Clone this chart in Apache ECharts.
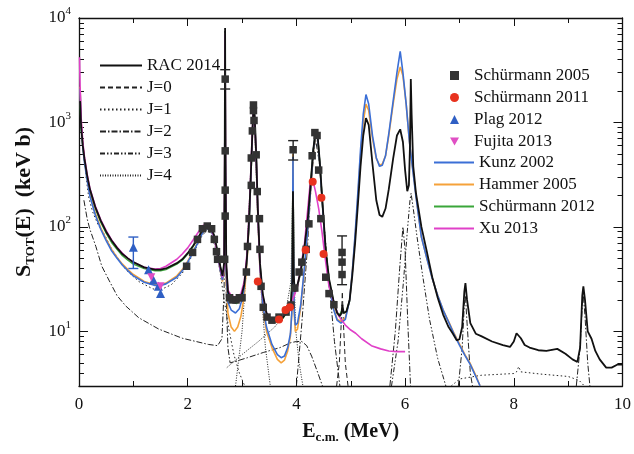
<!DOCTYPE html>
<html lang="en">
<head>
    <meta charset="utf-8">
    <title>S factor 12C(a,g)</title>
    <script src="https://cdn.jsdelivr.net/npm/echarts@6/dist/echarts.min.js"></script>
    <style>
        html, body { margin: 0; padding: 0; background: #fff; }
        #chart { width: 634px; height: 454px; }
    </style>
</head>
<body>
<div id="chart"></div>
<script>
    // all curves: [E_cm (MeV), S (keV b)]
    var rac2014 = [[0.02,1600],[0.04,900],[0.07,600],[0.1,450],[0.15,310],[0.2,230],[0.3,155],[0.4,115],[0.5,90],[0.6,74],[0.7,63],[0.8,55],[0.9,50],[1.0,46],[1.2,41],[1.4,39],[1.5,39],[1.6,40],[1.8,45],[1.9,49],[2.0,56],[2.1,66],[2.2,80],[2.28,95],[2.35,102],[2.42,99],[2.48,85],[2.54,62],[2.6,42],[2.64,34],[2.67,45],[2.68,300],[2.688,8000],[2.696,400],[2.71,45],[2.74,24],[2.8,20],[2.9,19],[2.98,21],[3.04,28],[3.09,50],[3.13,120],[3.16,300],[3.19,800],[3.21,1400],[3.23,1200],[3.26,500],[3.29,150],[3.33,45],[3.38,23],[3.45,15],[3.55,12.5],[3.65,12.5],[3.75,13.5],[3.83,15.5],[3.9,19],[3.925,30],[3.937,220],[3.95,35],[3.97,24],[4.02,28],[4.08,38],[4.15,65],[4.21,120],[4.26,250],[4.31,550],[4.35,800],[4.39,750],[4.43,420],[4.48,170],[4.54,60],[4.6,32],[4.68,20],[4.75,15],[4.8,14],[4.83,15],[4.845,18],[4.87,15],[4.92,15.5],[4.98,20],[5.03,35],[5.08,70],[5.13,160],[5.18,380],[5.23,750],[5.28,1100],[5.33,950],[5.4,400],[5.47,180],[5.53,130],[5.58,125],[5.64,150],[5.7,230],[5.78,450],[5.85,750],[5.91,860],[5.96,650],[6.0,350],[6.04,220],[6.07,250],[6.09,600],[6.105,2600],[6.12,1200],[6.15,380],[6.2,210],[6.3,100],[6.4,58],[6.5,33],[6.6,21],[6.7,14.5],[6.8,11],[6.88,9.5],[6.95,8.2],[7.0,8.4],[7.05,11],[7.09,24],[7.11,29],[7.14,20],[7.2,12],[7.3,9.5],[7.4,9],[7.6,8],[7.8,7.4],[7.93,7.1],[8.0,8],[8.05,9.6],[8.08,10],[8.13,8.6],[8.2,7.4],[8.29,7],[8.45,6.6],[8.6,6.5],[8.8,6.8],[8.95,6.1],[9.08,5.4],[9.17,5.1],[9.22,7],[9.26,22],[9.28,27],[9.31,20],[9.36,10],[9.43,8.5],[9.5,6.5],[9.58,5.4],[9.7,4.5],[9.8,4.5],[9.9,4.8],[10,4.8]];

    var hammer2005 = [[0.02,2200],[0.04,1000],[0.07,600],[0.1,430],[0.15,290],[0.2,205],[0.3,135],[0.4,98],[0.5,76],[0.6,61],[0.7,51],[0.8,44],[0.9,39],[1.0,35],[1.2,30],[1.4,28],[1.5,28],[1.6,29],[1.8,34],[1.9,39],[2.0,47],[2.1,58],[2.2,74],[2.28,90],[2.35,98],[2.42,95],[2.48,80],[2.54,58],[2.6,38],[2.64,30],[2.67,38],[2.68,250],[2.688,6500],[2.696,300],[2.71,30],[2.74,15],[2.8,11],[2.86,10],[2.92,11],[2.98,14],[3.04,22],[3.09,45],[3.13,110],[3.16,280],[3.19,760],[3.21,1300],[3.23,1100],[3.26,450],[3.29,130],[3.33,38],[3.38,17],[3.45,10],[3.55,7],[3.65,5.4],[3.72,5],[3.78,5.3],[3.84,6.5],[3.89,9],[3.915,15],[3.93,80],[3.937,500],[3.945,80],[3.96,15],[3.98,10],[4.02,10.5],[4.08,17],[4.15,40],[4.21,95],[4.26,220],[4.31,520],[4.35,780],[4.39,720],[4.43,400],[4.48,160],[4.54,55],[4.6,28],[4.68,17],[4.75,13],[4.82,12.5],[4.9,13.5],[4.98,20],[5.03,38],[5.08,80],[5.13,190],[5.18,480],[5.23,1000],[5.28,1500],[5.33,1300],[5.4,700],[5.47,450],[5.53,390],[5.58,400],[5.64,480],[5.7,750],[5.78,1500],[5.85,2600],[5.91,3400],[5.96,2800],[6.02,1500],[6.08,650],[6.15,330],[6.2,200],[6.3,80],[6.4,50],[6.5,32],[6.6,22],[6.7,16],[6.8,12.5],[6.9,9.6],[7.0,7.6],[7.1,6],[7.2,4.9],[7.3,3.8],[7.38,3]];

    var kunz2002 = [[0.02,2100],[0.04,960],[0.07,580],[0.1,415],[0.15,280],[0.2,198],[0.3,130],[0.4,95],[0.5,74],[0.6,59],[0.7,50],[0.8,43],[0.9,38],[1.0,34],[1.2,29.5],[1.4,27.5],[1.5,27.5],[1.6,28.5],[1.8,33],[1.9,38],[2.0,46],[2.1,57],[2.2,73],[2.28,89],[2.35,97],[2.42,94],[2.48,80],[2.54,58],[2.6,38],[2.64,31],[2.67,40],[2.68,280],[2.688,7000],[2.696,350],[2.71,35],[2.74,19],[2.8,16],[2.88,15],[2.95,16.5],[3.02,22],[3.08,42],[3.13,110],[3.16,280],[3.19,780],[3.21,1330],[3.23,1120],[3.26,460],[3.29,135],[3.33,40],[3.38,18],[3.45,11],[3.55,7.5],[3.65,6],[3.72,5.6],[3.78,5.8],[3.84,7],[3.89,9.5],[3.915,15],[3.93,80],[3.937,470],[3.945,80],[3.96,16],[3.98,11.5],[4.02,12],[4.08,18],[4.15,42],[4.21,97],[4.26,225],[4.31,530],[4.35,790],[4.39,730],[4.43,400],[4.48,160],[4.54,55],[4.6,28],[4.68,16.5],[4.75,12.8],[4.82,12],[4.9,13],[4.98,20],[5.03,38],[5.08,85],[5.13,210],[5.18,550],[5.23,1200],[5.28,1850],[5.33,1500],[5.4,750],[5.47,460],[5.53,380],[5.58,390],[5.64,480],[5.7,780],[5.78,1600],[5.85,3000],[5.91,4800],[5.96,3000],[6.02,1500],[6.08,650],[6.15,320],[6.2,195],[6.3,80],[6.4,50],[6.5,32],[6.6,22],[6.7,16],[6.8,12.3],[6.9,9.4],[7.0,7.4],[7.1,5.9],[7.2,4.8],[7.3,3.7],[7.38,3]];

    var schurmann2012 = [[0.02,1550],[0.04,880],[0.07,590],[0.1,440],[0.15,300],[0.2,222],[0.3,150],[0.4,111],[0.5,87],[0.6,71],[0.7,61],[0.8,53],[0.9,48],[1.0,44],[1.2,40],[1.4,38],[1.5,38],[1.6,39],[1.8,44],[1.9,48],[2.0,55],[2.1,65],[2.2,79],[2.28,94],[2.35,100],[2.42,97],[2.48,83],[2.54,60],[2.6,41],[2.64,33],[2.67,42],[2.68,250],[2.688,5000],[2.696,300],[2.71,40],[2.74,23],[2.8,19.5],[2.9,18.5],[2.98,20.5],[3.04,27],[3.09,48],[3.13,115],[3.16,290],[3.19,780],[3.21,1380],[3.23,1180],[3.26,490],[3.29,145],[3.33,44],[3.38,22],[3.45,14.5],[3.55,12.3],[3.65,12.3],[3.75,13.3],[3.83,15.3],[3.9,18.5],[3.925,40],[3.937,460],[3.95,40],[3.97,23],[4.02,27],[4.08,37],[4.15,63],[4.21,118],[4.26,245],[4.31,540],[4.35,790],[4.39,740],[4.43,410],[4.48,165],[4.54,58],[4.6,31],[4.68,19.5],[4.75,15],[4.8,14.5],[4.84,16],[4.87,15],[4.92,15.5],[4.98,19.5]];

    var xu2013 = [[0.01,4200],[0.02,2200],[0.04,1100],[0.07,650],[0.1,470],[0.15,320],[0.2,235],[0.3,158],[0.4,117],[0.5,92],[0.6,75],[0.7,64],[0.8,56],[0.9,50],[1.0,46],[1.2,41],[1.4,39.5],[1.5,40],[1.6,42],[1.8,49],[1.9,55],[2.0,63],[2.1,75],[2.2,90],[2.28,103],[2.34,106],[2.41,100],[2.48,82],[2.54,58],[2.6,40],[2.64,33],[2.67,42],[2.68,280],[2.688,7000],[2.696,350],[2.71,42],[2.74,25],[2.8,22],[2.9,21],[2.98,23],[3.04,30],[3.09,55],[3.13,130],[3.16,320],[3.19,850],[3.21,1350],[3.23,1150],[3.26,480],[3.29,140],[3.33,42],[3.38,22],[3.45,15],[3.55,13],[3.65,13],[3.75,14],[3.83,16],[3.9,19],[3.96,22],[4.02,27],[4.08,40],[4.15,70],[4.21,150],[4.25,250],[4.28,290],[4.31,270],[4.35,220],[4.41,150],[4.47,90],[4.53,50],[4.6,27],[4.7,18],[4.78,14],[4.9,11.5],[5.0,10.3],[5.09,9.6],[5.2,8.5],[5.38,7.3],[5.55,6.8],[5.7,6.5],[5.85,6.4],[6.0,6.4]];

    // partial waves (thin black), each a list of separate pieces
    var j0Parts = [
        [[4.74,3],[4.79,5],[4.825,12],[4.845,24],[4.865,12],[4.9,5],[4.95,3]]
    ];
    var j1Parts = [
        [[0.12,330],[0.18,190],[0.25,140],[0.35,105],[0.45,88],[0.6,62],[0.86,39],[1.1,30],[1.36,25.5],[1.5,25],[1.7,28],[1.9,36],[2.1,55],[2.25,80],[2.34,92],[2.42,88],[2.5,66],[2.58,42],[2.66,22],[2.75,11],[2.85,6],[2.95,4],[3.05,3]],
        [[6.85,3],[7.0,3.5],[7.4,3.8],[8.0,3.95],[8.05,4.1],[8.09,4.6],[8.13,4.1],[8.5,3.9],[9.0,3.7],[9.2,3.4],[9.3,3]]
    ];
    var j2Parts = [
        [[0.09,180],[0.15,120],[0.2,95],[0.31,65],[0.42,42],[0.55,31],[0.7,22],[0.86,17.5],[1.1,13.5],[1.47,10.5],[1.9,8.6],[2.38,7.5],[2.55,7.3],[2.63,8.5],[2.67,25],[2.68,400],[2.688,7500],[2.696,400],[2.71,20],[2.74,7],[2.78,5],[2.9,5.2],[3.1,5.6],[3.4,6.3],[3.7,7],[3.9,7.8],[4.0,8],[4.1,8],[4.19,7.3],[4.28,5.8],[4.38,4.2],[4.48,3]],
        [[4.0,3],[4.1,12],[4.2,60],[4.28,300],[4.35,700],[4.42,420],[4.5,120],[4.6,30],[4.7,8],[4.8,3]],
        [[5.72,3],[5.82,10],[5.9,40],[5.96,100],[6.0,60],[6.05,12],[6.1,3]],
        [[6.98,3],[7.05,7],[7.09,18],[7.11,22],[7.14,12],[7.2,4],[7.24,3]],
        [[9.15,3],[9.22,7],[9.26,18],[9.28,22],[9.31,14],[9.36,5],[9.4,3]]
    ];
    var j3Parts = [
        [[5.75,3],[5.87,8],[5.97,30],[6.04,90],[6.09,180],[6.11,210],[6.15,150],[6.22,80],[6.32,35],[6.45,13],[6.6,5.5],[6.75,3]]
    ];
    var j4Parts = [
        [[2.88,3],[3.0,10],[3.08,40],[3.14,200],[3.19,900],[3.21,1300],[3.24,700],[3.29,110],[3.35,25],[3.43,7],[3.52,3]],
        [[2.72,4.5],[3.0,6],[3.3,8],[3.6,11],[3.8,15],[3.9,30],[3.93,200],[3.937,470],[3.945,200],[3.96,30],[3.99,10],[4.05,5],[4.12,3]]
    ];

    // measurements
    var schurmann2005 = [[1.98,42],[2.09,57],[2.18,76],[2.27,96],[2.36,102],[2.44,96],[2.49,76],[2.53,58],[2.55,49],[2.69,2600],[2.69,535],[2.69,225],[2.69,127],[2.68,49],[2.77,21],[2.82,20],[2.89,20],[2.95,21],[3.0,21],[3.08,37],[3.1,65],[3.13,120],[3.17,250],[3.17,457],[3.19,830],[3.21,1300],[3.21,1470],[3.22,1045],[3.26,490],[3.28,218],[3.32,120],[3.33,61],[3.35,27],[3.39,17],[3.46,13.7],[3.55,12.8],[3.68,13.7],[3.81,15.3],[3.9,17.9],[3.94,548],[3.97,26],[4.05,37],[4.1,46],[4.18,61],[4.23,107],[4.29,480],[4.34,800],[4.38,750],[4.41,350],[4.45,120],[4.54,33],[4.6,23],[4.69,18],[4.84,57],[4.84,46],[4.84,35]];
    var schurmann2011 = [[3.29,30],[3.68,13],[3.8,16],[3.88,17],[4.17,60],[4.3,270],[4.46,190],[4.5,55]];
    var plag2012 = [[1.0,64],[1.28,39],[1.37,31],[1.46,27],[1.5,23]];
    var fujita2013 = [[1.33,33],[1.5,27]];

    // error bars: [E, low, high]
    var schurmann2005Err = [[2.69,2090,3200],[3.94,437,670],[4.84,28,82]];
    var plag2012Err = [[1.0,40,80]];

    // axis ticks
    var xLabels = [0, 2, 4, 6, 8, 10];
    var yDecades = [1, 2, 3, 4];

    var serif = '"Liberation Serif", "DejaVu Serif", serif';
    var downTriangle = 'path://M0,0L10,0L5,9Z';
    var yMin = Math.log10(3), yMax = 4;

    function toLog(pts) {
        return pts.map(function (p) { return [p[0], Math.log10(p[1])]; });
    }
    function joinParts(parts) {
        var out = [];
        parts.forEach(function (seg, i) {
            if (i > 0) out.push([seg[0][0], '-']);
            out = out.concat(toLog(seg));
        });
        return out;
    }
    function errLog(rows) {
        return rows.map(function (r) { return [r[0], Math.log10(r[1]), Math.log10(r[2])]; });
    }

    var yMinor = [];
    for (var d = 0; d < 4; d++) {
        for (var k = 2; k <= 9; k++) {
            var v = d + Math.log10(k);
            if (v > yMin && v < yMax) yMinor.push(v);
        }
    }

    function curve(name, data, color, width, dash, z) {
        return {
            name: name, type: 'line', data: data, symbol: 'none',
            lineStyle: { color: color, width: width, type: dash || 'solid' },
            itemStyle: { color: color, opacity: 0 },
            animation: false, z: z || 2
        };
    }
    function marks(name, pts, symbol, size, color) {
        return {
            name: name, type: 'scatter', data: toLog(pts),
            symbol: symbol, symbolSize: size,
            itemStyle: { color: color, opacity: 1 },
            animation: false, z: 6
        };
    }
    function errorBars(name, rows, color) {
        return {
            name: name, type: 'custom', data: errLog(rows), z: 5,
            encode: { x: 0, y: [1, 2] }, animation: false,
            renderItem: function (params, api) {
                var x = api.value(0);
                var lo = api.coord([x, api.value(1)]);
                var hi = api.coord([x, api.value(2)]);
                var st = { stroke: color, lineWidth: 1.4 };
                return {
                    type: 'group', children: [
                        { type: 'line', shape: { x1: lo[0], y1: lo[1], x2: hi[0], y2: hi[1] }, style: st },
                        { type: 'line', shape: { x1: lo[0] - 5, y1: lo[1], x2: lo[0] + 5, y2: lo[1] }, style: st },
                        { type: 'line', shape: { x1: hi[0] - 5, y1: hi[1], x2: hi[0] + 5, y2: hi[1] }, style: st }
                    ]
                };
            }
        };
    }

    function yAxisDef(position, ticks, len, showLine, label) {
        return {
            type: 'value', min: yMin, max: yMax, position: position,
            splitLine: { show: false },
            axisLine: { show: showLine, lineStyle: { color: '#111', width: 1.3 } },
            axisTick: { show: true, inside: true, length: len, customValues: ticks, lineStyle: { color: '#111', width: 1 } },
            axisLabel: label || { show: false }
        };
    }
    function xAxisDef(position, label) {
        return {
            type: 'value', min: 0, max: 10, interval: 2, position: position,
            splitLine: { show: false },
            axisLine: { lineStyle: { color: '#111', width: 1.3 } },
            axisTick: { inside: true, length: 8, lineStyle: { color: '#111', width: 1 } },
            minorTick: { show: true, splitNumber: 2, length: 5, lineStyle: { color: '#111', width: 1 } },
            axisLabel: label || { show: false }
        };
    }

    var yLeft = yAxisDef('left', yDecades, 9, true, {
        customValues: yDecades, margin: 8,
        formatter: function (v) { return '{b|10}{s|' + Math.round(v) + '}'; },
        rich: {
            b: { fontFamily: serif, fontSize: 17, color: '#111', lineHeight: 24 },
            s: { fontFamily: serif, fontSize: 11, color: '#111', lineHeight: 10, verticalAlign: 'top' }
        }
    });
    yLeft.name = '{b|S}{s|TOT}{b|(E)  (keV b)}';
    yLeft.nameLocation = 'middle';
    yLeft.nameGap = 42;
    yLeft.nameTextStyle = {
        rich: {
            b: { fontFamily: serif, fontSize: 22, fontWeight: 'bold', color: '#111', lineHeight: 26 },
            s: { fontFamily: serif, fontSize: 13, fontWeight: 'bold', color: '#111', lineHeight: 10, verticalAlign: 'bottom' }
        }
    };

    var xBottom = xAxisDef('bottom', {
        fontFamily: serif, fontSize: 17, color: '#111', margin: 10,
        formatter: function (v) { return xLabels.indexOf(v) >= 0 ? String(v) : ''; }
    });
    xBottom.name = '{b|E}{s|c.m.}{b| (MeV)}';
    xBottom.nameLocation = 'middle';
    xBottom.nameGap = 34;
    xBottom.nameTextStyle = {
        rich: {
            b: { fontFamily: serif, fontSize: 20, fontWeight: 'bold', color: '#111', lineHeight: 24 },
            s: { fontFamily: serif, fontSize: 13, fontWeight: 'bold', color: '#111', lineHeight: 10, verticalAlign: 'bottom' }
        }
    };

    var legendText = { fontFamily: serif, fontSize: 17, color: '#111' };

    var option = {
        backgroundColor: '#fff',
        animation: false,
        grid: { left: 79, right: 9, top: 18, bottom: 68 },
        xAxis: [xBottom, xAxisDef('top')],
        yAxis: [
            yLeft,
            yAxisDef('left', yMinor, 5, false),
            yAxisDef('right', yDecades, 9, true),
            yAxisDef('right', yMinor, 5, false)
        ],
        legend: [
            {
                orient: 'vertical', left: 99, top: 57, padding: 0,
                itemWidth: 42, itemHeight: 14, itemGap: 5, selectedMode: false,
                itemStyle: { opacity: 0 },
                textStyle: legendText,
                data: ['RAC 2014', 'J=0', 'J=1', 'J=2', 'J=3', 'J=4']
            },
            {
                // square icon box so the markers keep their shape; spacer pushes the text right
                orient: 'vertical', left: 450, top: 67, padding: 0,
                itemWidth: 9, itemHeight: 9, itemGap: 5, selectedMode: false,
                formatter: function (name) { return '{gap|}' + name; },
                textStyle: {
                    fontFamily: serif, fontSize: 17, color: '#111',
                    rich: { gap: { width: 10 } }
                },
                data: ['Schürmann 2005', 'Schürmann 2011', 'Plag 2012', 'Fujita 2013']
            },
            {
                orient: 'vertical', left: 433, top: 154, padding: 0,
                itemWidth: 40, itemHeight: 10, itemGap: 5, selectedMode: false,
                itemStyle: { opacity: 0 },
                textStyle: legendText,
                data: ['Kunz 2002', 'Hammer 2005', 'Schürmann 2012', 'Xu 2013']
            }
        ],
        series: [
            curve('J=0', joinParts(j0Parts), '#222', 1, [5, 3]),
            curve('J=1', joinParts(j1Parts), '#222', 1, [1.5, 2.5]),
            curve('J=2', joinParts(j2Parts), '#222', 1, [6, 2, 1.5, 2]),
            curve('J=3', joinParts(j3Parts), '#222', 1, [5, 2, 1.5, 2, 1.5, 2]),
            curve('J=4', joinParts(j4Parts), '#222', 1, [1, 1.5]),
            curve('Schürmann 2012', toLog(schurmann2012), '#3aa63a', 1.5, null, 3),
            curve('Hammer 2005', toLog(hammer2005), '#f5a23a', 1.6, null, 3),
            curve('Kunz 2002', toLog(kunz2002), '#3b6fd6', 1.6, null, 3),
            curve('Xu 2013', toLog(xu2013), '#e040c8', 1.6, null, 3),
            curve('RAC 2014', toLog(rac2014), '#111', 1.8, null, 4),
            errorBars('err2005', schurmann2005Err, '#222'),
            errorBars('errPlag', plag2012Err, '#2f5fc4'),
            marks('Schürmann 2005', schurmann2005, 'rect', 7.5, '#333'),
            marks('Schürmann 2011', schurmann2011, 'circle', 8, '#e8321e'),
            marks('Plag 2012', plag2012, 'triangle', 9, '#2f5fc4'),
            marks('Fujita 2013', fujita2013, downTriangle, 8, '#e04fc4')
        ]
    };

    var myChart = echarts.init(document.getElementById('chart'));
    myChart.setOption(option);
</script>
</body>
</html>
